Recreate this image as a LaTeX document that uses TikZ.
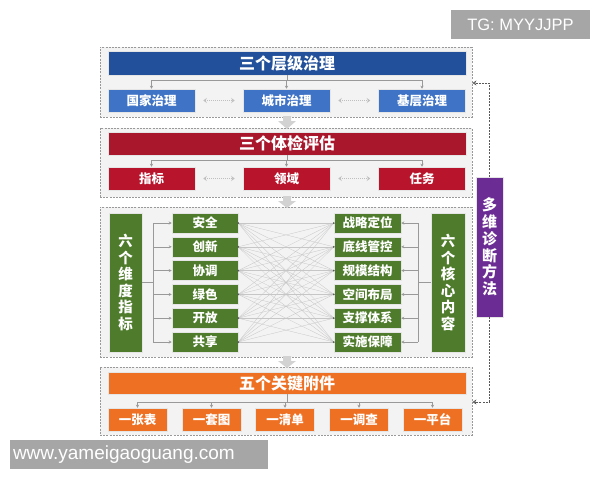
\documentclass[tikz,border=0pt]{standalone}
\usepackage{fontspec}
\setmainfont{Noto Sans CJK SC}
\newfontfamily\wmfont{Liberation Sans}
\usetikzlibrary{arrows.meta}
\definecolor{bluet}{HTML}{22509A}
\definecolor{blues}{HTML}{3F73C6}
\definecolor{redt}{HTML}{A8172C}
\definecolor{reds}{HTML}{B8152C}
\definecolor{greenb}{HTML}{4F7C2C}
\definecolor{orangeb}{HTML}{EE7022}
\definecolor{purpleb}{HTML}{6B2C93}
\definecolor{panelbg}{HTML}{F3F3F3}
\definecolor{wmgray}{HTML}{A6A6A6}
\begin{document}
\begin{tikzpicture}[x=1pt,y=-1pt,
  panel/.style={draw=gray!80, fill=panelbg, line width=0.9pt, dash pattern=on 2pt off 1.2pt, minimum width=372pt, inner sep=0pt},
  box/.style={draw=white!80!gray, line width=0.5pt, text=white, font=\bfseries, inner sep=0pt, align=center},
  ttl/.style={box, minimum width=358pt, font=\bfseries\fontsize{16}{16}\selectfont},
  sub/.style={box, minimum width=87pt, minimum height=23pt, font=\bfseries\fontsize{12.5}{12.5}\selectfont},
  gsub/.style={box, fill=greenb, minimum height=20pt, font=\bfseries\fontsize{12.5}{12.5}\selectfont},
  osub/.style={box, fill=orangeb, minimum width=59pt, minimum height=23pt, font=\bfseries\fontsize{12.5}{12.5}\selectfont},
  conn/.style={draw=gray!80, line width=0.5pt, -{Stealth[length=3pt,width=3pt]}},
  dbl/.style={draw=gray!50, line width=0.6pt, dash pattern=on 1pt off 1pt, {Stealth[length=3.5pt,width=5pt,open]}-{Stealth[length=3.5pt,width=5pt,open]}},
  mesh/.style={draw=gray!45, line width=0.3pt},
  loop/.style={draw=gray!70!black, line width=0.6pt, dash pattern=on 2pt off 1.2pt, -{Stealth[length=4pt,width=5pt,open]}},
  bigarrow/.style={fill=gray!35, draw=none}
]
\useasboundingbox (0,0) rectangle (600,480);
\fill[white] (0,0) rectangle (600,480);

% panels
\node[panel, minimum height=70pt] (p1) at (286,82) {};
\node[panel, minimum height=69pt] (p2) at (286,162.5) {};
\node[panel, minimum height=150pt] (p3) at (286,282) {};
\node[panel, minimum height=68pt] (p4) at (286,401) {};

% big gray arrows between panels
\foreach \ya/\yb in {117/128, 197/207, 357/367}{
  \fill[bigarrow] (283,\ya-1) -- (291,\ya-1) -- (291,\ya+4) -- (296,\ya+4) -- (287,\yb+1) -- (278,\ya+4) -- (283,\ya+4) -- cycle;
}

% panel 1
\node[ttl, fill=bluet, minimum height=24pt] (t1) at (287,63) {三个层级治理};
\node[sub, fill=blues] (a1) at (151.5,100.5) {国家治理};
\node[sub, fill=blues] (a2) at (286.5,100.5) {城市治理};
\node[sub, fill=blues] (a3) at (422,100.5) {基层治理};
\coordinate (b1) at (287,80);
\draw[draw=gray!80, line width=0.5pt] (t1.south) -- (b1);
\draw[draw=gray!80, line width=0.5pt] (a1.north |- b1) -- (a3.north |- b1);
\foreach \n in {a1,a2,a3}{ \draw[conn] (\n.north |- b1) -- (\n.north); }
\draw[dbl] ([xshift=8pt]a1.east) -- ([xshift=-8pt]a2.west);
\draw[dbl] ([xshift=8pt]a2.east) -- ([xshift=-8pt]a3.west);

% panel 2
\node[ttl, fill=redt, minimum height=23pt] (t2) at (287,143.5) {三个体检评估};
\node[sub, fill=reds] (c1) at (151.5,178.5) {指标};
\node[sub, fill=reds] (c2) at (286.5,178.5) {领域};
\node[sub, fill=reds] (c3) at (422,178.5) {任务};
\coordinate (b2) at (287,160);
\draw[draw=gray!80, line width=0.5pt] (t2.south) -- (b2);
\draw[draw=gray!80, line width=0.5pt] (c1.north |- b2) -- (c3.north |- b2);
\foreach \n in {c1,c2,c3}{ \draw[conn] (\n.north |- b2) -- (\n.north); }
\draw[dbl] ([xshift=8pt]c1.east) -- ([xshift=-8pt]c2.west);
\draw[dbl] ([xshift=8pt]c2.east) -- ([xshift=-8pt]c3.west);

% panel 3
\node[box, fill=greenb, minimum width=33pt, minimum height=139pt, font=\bfseries\fontsize{14.5}{16.5}\selectfont] (L) at (125.5,282.5) {六\\个\\维\\度\\指\\标};
\node[box, fill=greenb, minimum width=34pt, minimum height=139pt, font=\bfseries\fontsize{14.5}{16.5}\selectfont] (R) at (448,282.5) {六\\个\\核\\心\\内\\容};
\foreach \i/\t/\u/\y in {1/安全/战略定位/223, 2/创新/底线管控/246.8, 3/协调/规模结构/270.6, 4/绿色/空间布局/294.4, 5/开放/支撑体系/318.2, 6/共享/实施保障/342}{
  \node[gsub, minimum width=66pt] (l\i) at (205,\y) {\t};
  \node[gsub, minimum width=67pt] (r\i) at (367.5,\y) {\u};
}
\foreach \i in {1,...,6}{
  \foreach \j in {1,...,6}{
    \draw[mesh] (l\i.east) -- (r\j.west);
  }
}
\foreach \i in {1,...,6}{
  \fill[gray!70!black] (l\i.east) circle (1pt);
  \fill[gray!70!black] (r\i.west) circle (1pt);
}
\coordinate (bl) at (153,282.5);
\coordinate (br) at (418,282.5);
\draw[draw=gray!80, line width=0.5pt] (L.east) -- (bl);
\draw[draw=gray!80, line width=0.5pt] (bl |- l1.west) -- (bl |- l6.west);
\foreach \i in {1,...,6}{ \draw[conn] (bl |- l\i.west) -- (l\i.west); }
\draw[draw=gray!80, line width=0.5pt] (R.west) -- (br);
\draw[draw=gray!80, line width=0.5pt] (br |- r1.east) -- (br |- r6.east);
\foreach \i in {1,...,6}{ \draw[conn] (br |- r\i.east) -- (r\i.east); }

% panel 4
\node[ttl, fill=orangeb, minimum height=22pt] (t4) at (287,383) {五个关键附件};
\node[osub] (o1) at (137.5,419.5) {一张表};
\node[osub] (o2) at (211.5,419.5) {一套图};
\node[osub] (o3) at (285,419.5) {一清单};
\node[osub] (o4) at (359,419.5) {一调查};
\node[osub] (o5) at (432.5,419.5) {一平台};
\coordinate (b4) at (287,402);
\draw[draw=gray!80, line width=0.5pt] (t4.south) -- (b4);
\draw[draw=gray!80, line width=0.5pt] (o1.north |- b4) -- (o5.north |- b4);
\foreach \n in {o1,o2,o3,o4,o5}{ \draw[conn] (\n.north |- b4) -- (\n.north); }

% purple diagnosis box
\node[box, fill=purpleb, minimum width=27pt, minimum height=140pt, font=\bfseries\fontsize{15}{16.8}\selectfont] (M) at (489.5,247) {多\\维\\诊\\断\\方\\法};
\coordinate (m1) at (489.5,83);
\coordinate (m2) at (489.5,402);
\draw[loop] (M.north) -- (m1) -- (m1 -| p1.east);
\draw[loop] (M.south) -- (m2) -- (m2 -| p4.east);

% watermarks
\node[fill=wmgray, text=white, minimum width=139pt, minimum height=29pt, inner sep=0pt, font=\wmfont\fontsize{16.5}{16.5}\selectfont] (w1) at (520.5,24.5) {TG: MYYJJPP};
\node[fill=wmgray, text=white, minimum width=258pt, minimum height=29pt, inner sep=0pt, font=\wmfont\fontsize{19}{19}\selectfont, text width=252pt, align=left] (w2) at (139,454.5) {www.yameigaoguang.com};
\end{tikzpicture}
\end{document}
